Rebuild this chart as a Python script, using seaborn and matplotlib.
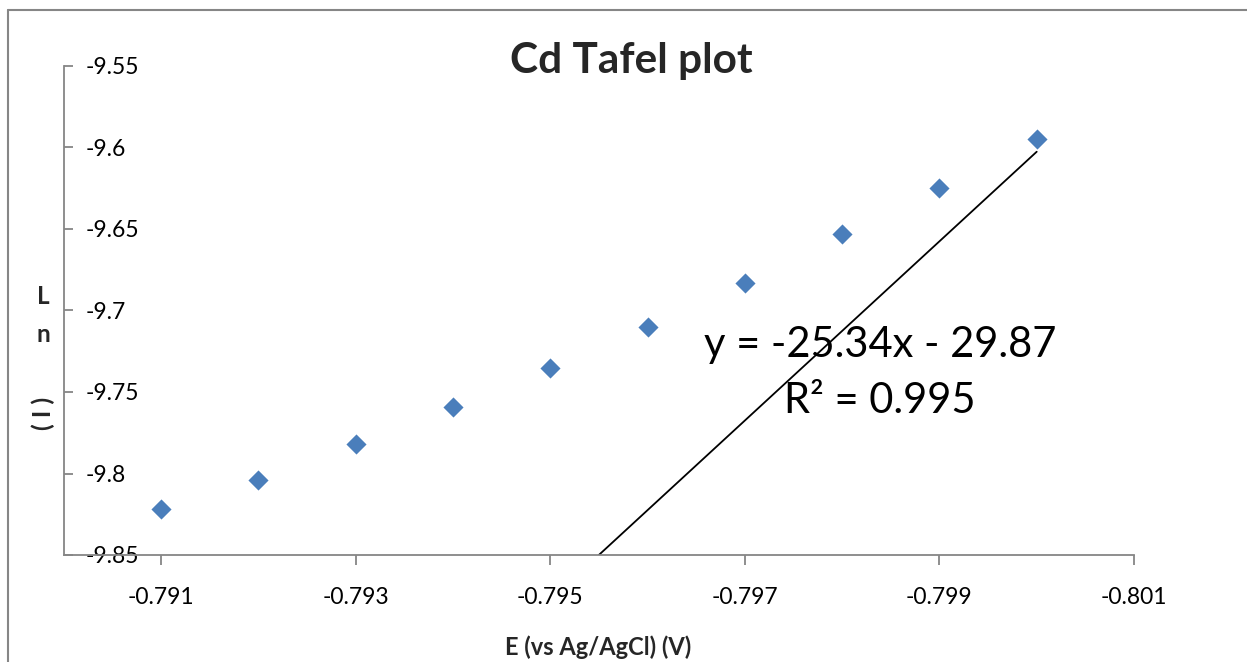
import matplotlib
matplotlib.use("Agg")
import matplotlib.pyplot as plt
from matplotlib.lines import Line2D
import seaborn as sns
import pandas as pd

# Data
potential_v = [-0.791, -0.792, -0.793, -0.794, -0.795, -0.796, -0.797, -0.798, -0.799, -0.800]
ln_current = [-9.822, -9.804, -9.782, -9.759, -9.735, -9.710, -9.683, -9.653, -9.625, -9.595]
trend_x = [-0.7955, -0.800]
trend_y = [-9.850, -9.6026]
x_ticks = [-0.791, -0.793, -0.795, -0.797, -0.799, -0.801]
x_tick_labels = ["-0.791", "-0.793", "-0.795", "-0.797", "-0.799", "-0.801"]
y_ticks = [-9.85, -9.80, -9.75, -9.70, -9.65, -9.60, -9.55]
y_tick_labels = ["-9.85", "-9.8", "-9.75", "-9.7", "-9.65", "-9.6", "-9.55"]
title = "Cd Tafel plot"
x_label = "E (vs Ag/AgCl) (V)"
equation = "y = -25.34x - 29.87"
r_squared = "R² = 0.995"

sns.set_theme(style="white")
plt.rcParams["font.family"] = ["Lato", "DejaVu Sans"]

W, H = 1247, 662
fig = plt.figure(figsize=(W / 100, H / 100), dpi=100)
fig.patch.set_facecolor("white")
ax = fig.add_axes([63.7 / W, 1 - 555 / H, (1134 - 63.7) / W, (555 - 66) / H])
ax.set_facecolor("white")

df = pd.DataFrame({"E": potential_v, "lnI": ln_current})
sns.scatterplot(data=df, x="E", y="lnI", marker="D", s=105, color="#4A7EBB",
                edgecolor="#4A7EBB", linewidth=0, ax=ax, zorder=3)
sns.lineplot(x=trend_x, y=trend_y, color="black", linewidth=1.3, ax=ax, zorder=2)

ax.set_xlim(-0.790, -0.801)
ax.set_ylim(-9.85, -9.55)
ax.set_xticks(x_ticks)
ax.set_xticklabels(x_tick_labels)
ax.set_yticks(y_ticks)
ax.set_yticklabels(y_tick_labels)
ax.set_xlabel("")
ax.set_ylabel("")

grey = "#868686"
for side in ["top", "right"]:
    ax.spines[side].set_visible(False)
for side in ["left", "bottom"]:
    ax.spines[side].set_color(grey)
    ax.spines[side].set_linewidth(1.3)

ax.tick_params(axis="x", direction="out", length=7, width=1.3, color=grey,
               pad=16, labelsize=16.5, labelcolor="black", bottom=True)
ax.tick_params(axis="y", direction="in", length=6.5, width=1.3, color=grey,
               pad=-15.5, labelsize=16.5, labelcolor="black", left=True)
for lbl in ax.get_yticklabels():
    lbl.set_horizontalalignment("left")

# Trendline label
ax.text(-0.79839, -9.7285, equation, ha="center", va="baseline", fontsize=30, color="black")
ax.text(-0.79839, -9.7629, r_squared, ha="center", va="baseline", fontsize=30, color="black")

# Title and axis labels
fig.text(631 / W, 1 - 61 / H, title, ha="center", va="center", fontsize=30.5, fontweight="bold")
fig.text(598 / W, 1 - 647 / H, x_label, ha="center", va="center", fontsize=17, fontweight="bold")
fig.text(43 / W, 1 - 297 / H, "L", ha="center", va="center", fontsize=17.5, fontweight="bold")
fig.text(43 / W, 1 - 334 / H, "n", ha="center", va="center", fontsize=17.5, fontweight="bold")
fig.text(43 / W, 1 - 413 / H, "( I )", ha="center", va="center", fontsize=18,
         fontweight="bold", rotation=90)

# Chart-area border (left and top edges visible)
fig.add_artist(Line2D([8 / W, 8 / W], [0, 1 - 10 / H], transform=fig.transFigure,
                      color=grey, linewidth=1.5))
fig.add_artist(Line2D([8 / W, 1], [1 - 10 / H, 1 - 10 / H], transform=fig.transFigure,
                      color=grey, linewidth=1.5))

fig.savefig("out.png", dpi=100, facecolor="white")
